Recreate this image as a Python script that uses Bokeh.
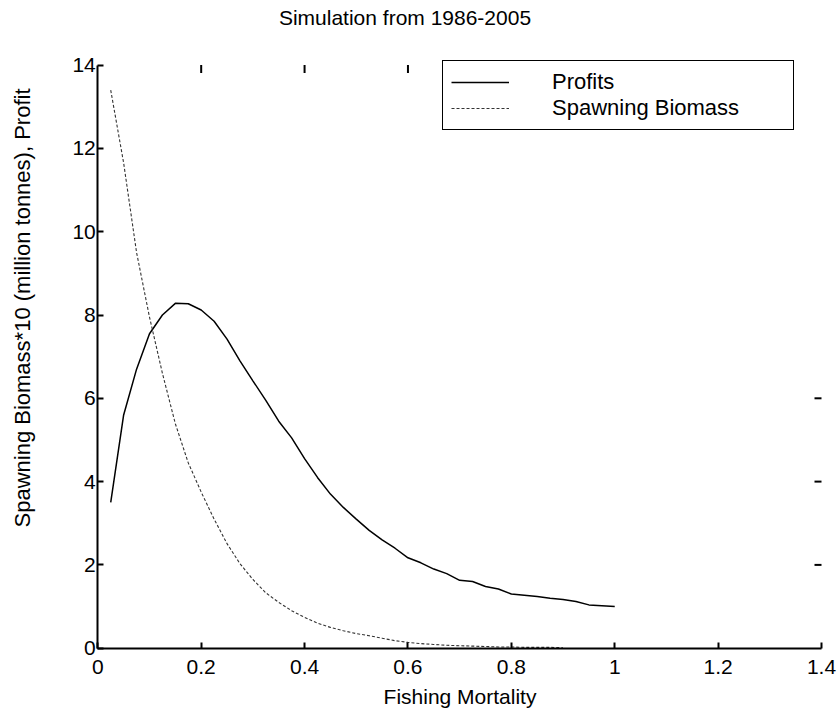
from math import pi
from bokeh.plotting import figure
from bokeh.models import (LinearAxis, FixedTicker, Legend, LegendItem, Range1d, Label)
from bokeh.embed import file_html
from bokeh.resources import INLINE

# ---- data ----
profit_f = [0.025, 0.05, 0.075, 0.1, 0.125, 0.15, 0.175, 0.2, 0.225, 0.25,
            0.275, 0.3, 0.325, 0.35, 0.375, 0.4, 0.425, 0.45, 0.475, 0.5,
            0.525, 0.55, 0.575, 0.6, 0.625, 0.65, 0.675, 0.7, 0.725, 0.75,
            0.775, 0.8, 0.825, 0.85, 0.875, 0.9, 0.925, 0.95, 0.975, 1.0]
profits = [3.5, 5.6, 6.7, 7.55, 8.0, 8.28, 8.27, 8.12, 7.85, 7.42,
           6.9, 6.42, 5.95, 5.45, 5.05, 4.55, 4.1, 3.7, 3.38, 3.1,
           2.83, 2.6, 2.4, 2.17, 2.05, 1.9, 1.79, 1.63, 1.6, 1.48,
           1.42, 1.3, 1.27, 1.24, 1.2, 1.17, 1.12, 1.04, 1.02, 1.0]

biomass_f = [0.025, 0.05, 0.075, 0.1, 0.125, 0.15, 0.175, 0.2, 0.225, 0.25,
             0.275, 0.3, 0.325, 0.35, 0.375, 0.4, 0.425, 0.45, 0.475, 0.5,
             0.525, 0.55, 0.575, 0.6, 0.625, 0.65, 0.675, 0.7, 0.725, 0.75,
             0.775, 0.8, 0.825, 0.85, 0.875, 0.9]
biomass = [13.4, 11.65, 9.5, 7.95, 6.6, 5.39, 4.45, 3.75, 3.1, 2.51,
           2.03, 1.65, 1.33, 1.1, 0.9, 0.74, 0.6, 0.5, 0.42, 0.35,
           0.3, 0.24, 0.18, 0.14, 0.11, 0.09, 0.07, 0.06, 0.05, 0.04,
           0.03, 0.03, 0.02, 0.02, 0.02, 0.01]

x_ticks = [0, 0.2, 0.4, 0.6, 0.8, 1.0, 1.2, 1.4]
x_tick_labels = ["0", "0.2", "0.4", "0.6", "0.8", "1", "1.2", "1.4"]
y_ticks = [0, 2, 4, 6, 8, 10, 12, 14]
top_ticks = [0.2, 0.4, 0.6]
right_ticks = [2, 4, 6]

title_text = "Simulation from 1986-2005"
x_label = "Fishing Mortality"
y_label = "Spawning Biomass*10 (million tonnes), Profit"

FONT = "Liberation Sans"

# ---- layout (pixels on the 838x710 canvas) ----
W, H = 838, 710
AX_LEFT, AX_RIGHT = 97.3, 821.0      # pixel of x = 0 and x = 1.4
AX_BOTTOM, AX_TOP = 647.7, 64.6      # pixel of y = 0 and y = 14
x0, x1 = x_ticks[0], x_ticks[-1]
y0, y1 = y_ticks[0], y_ticks[-1]
sx = (AX_RIGHT - AX_LEFT) / (x1 - x0)
sy = (AX_BOTTOM - AX_TOP) / (y1 - y0)

def px_x(px):
    return x0 + (px - AX_LEFT) / sx

def px_y(py):
    return y0 + (AX_BOTTOM - py) / sy

p = figure(width=W, height=H, output_backend="svg", toolbar_location=None,
           x_range=Range1d(px_x(0), px_x(W)), y_range=Range1d(px_y(H), px_y(0)),
           min_border=0, min_border_left=0, min_border_right=0,
           min_border_top=0, min_border_bottom=0,
           x_axis_location=None, y_axis_location=None)
p.outline_line_color = None
p.grid.visible = False
p.background_fill_color = "white"
p.border_fill_color = "white"

xa = LinearAxis(ticker=FixedTicker(ticks=x_ticks), fixed_location=y0, bounds=(x0, x1),
                major_label_overrides={t: l for t, l in zip(x_ticks, x_tick_labels)})
ya = LinearAxis(ticker=FixedTicker(ticks=y_ticks), fixed_location=x0, bounds=(y0, y1))
for ax in (xa, ya):
    ax.axis_line_width = 2
    ax.axis_line_color = "black"
    ax.major_tick_in = 6
    ax.major_tick_out = 0
    ax.major_tick_line_width = 2
    ax.minor_tick_line_color = None
    ax.major_label_text_font = FONT
    ax.major_label_text_font_size = "21px"
    ax.major_label_text_color = "black"
xa.major_label_standoff = 12
ya.major_label_standoff = 2
p.add_layout(xa, "below")
p.add_layout(ya, "left")

# inward ticks on top and right edges
p.ray(x=top_ticks, y=y1, length=8, length_units="screen", angle=-pi / 2,
      line_color="black", line_width=2)
p.ray(x=x1, y=right_ticks, length=7, length_units="screen", angle=pi,
      line_color="black", line_width=2)

r1 = p.line(profit_f, profits, line_color="black", line_width=1.5)
r2 = p.line(biomass_f, biomass, line_color="#333333", line_width=1.1, line_dash="3 2")

# titles
p.add_layout(Label(x=px_x(404.5), y=px_y(17), text=title_text, text_font=FONT,
                   text_font_size="21px", text_align="center",
                   text_baseline="alphabetic", text_color="black"))
p.add_layout(Label(x=px_x(459.5), y=px_y(696), text=x_label, text_font=FONT,
                   text_font_size="21px", text_align="center",
                   text_baseline="alphabetic", text_color="black"))
p.add_layout(Label(x=px_x(22), y=px_y(307.5), text=y_label, text_font=FONT,
                   text_font_size="22px", text_align="center", angle=pi / 2,
                   text_baseline="alphabetic", text_color="black"))

legend = Legend(items=[LegendItem(label="Profits", renderers=[r1]),
                       LegendItem(label="Spawning Biomass", renderers=[r2])],
                location=(442, H - 130), orientation="vertical",
                label_text_font=FONT, label_text_font_size="22px",
                label_text_color="black",
                label_width=233, label_height=22, glyph_width=58, glyph_height=22,
                label_standoff=43, spacing=0, padding=8, margin=0,
                border_line_color="black", border_line_width=1.5, border_line_alpha=1.0,
                background_fill_color="white", background_fill_alpha=1.0)
p.add_layout(legend, "center")

open("out.html", "w").write(file_html(p, INLINE))
